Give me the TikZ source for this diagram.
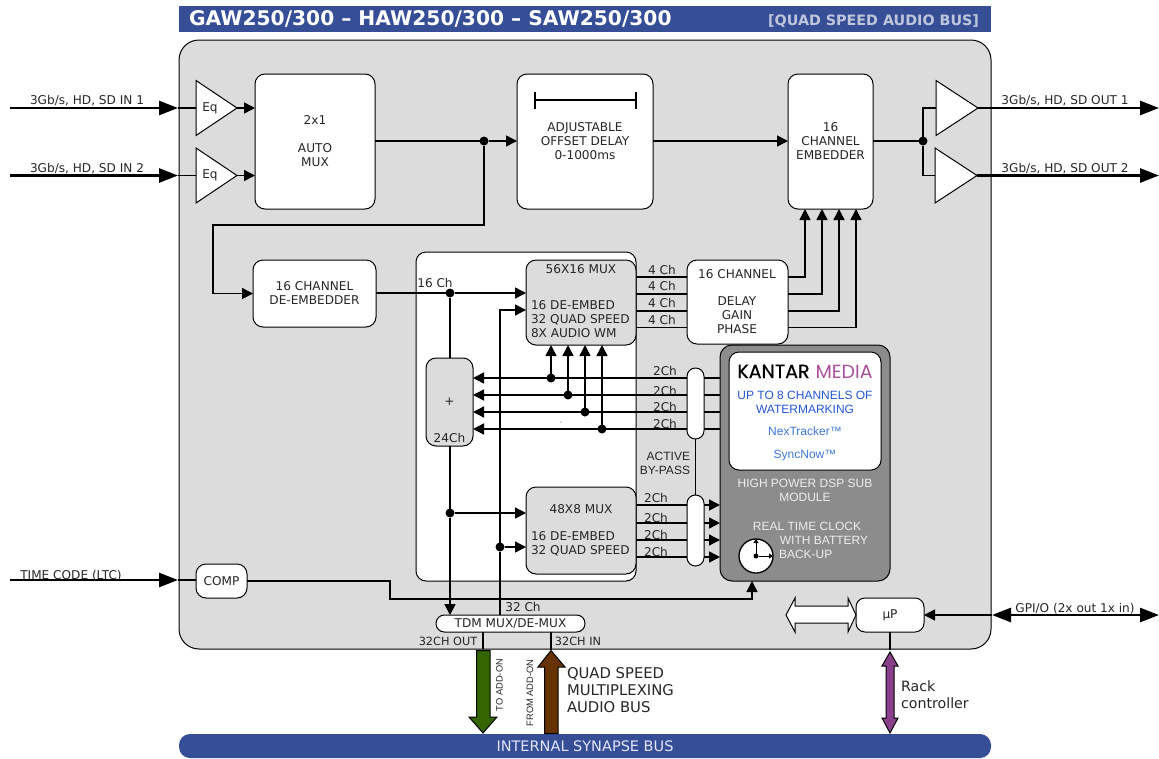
\documentclass[tikz,border=0pt]{standalone}
\usepackage{fontspec}
\setmainfont{DejaVu Sans}
\newfontfamily\logofont{Poppins}
\newfontfamily\logob[FakeBold=0.5]{Poppins}
\newfontfamily\arial{Liberation Sans}
\usetikzlibrary{arrows.meta,shapes.geometric,calc}
\definecolor{titleblue}{HTML}{354E96}
\definecolor{boardgrey}{HTML}{DCDCDC}
\definecolor{dspgrey}{HTML}{8C8C8C}
\definecolor{subtle}{HTML}{BFC6DC}
\definecolor{wmblue}{HTML}{2457D6}
\definecolor{tmblue}{HTML}{3E78D8}
\definecolor{kpurple}{HTML}{A9509B}
\definecolor{dgreen}{HTML}{336600}
\definecolor{dbrown}{HTML}{663300}
\definecolor{rackp}{HTML}{8A3F8A}
\definecolor{dsptext}{HTML}{EDEDED}
\tikzset{
  x=1pt,y=-1pt,
  every node/.style={inner sep=0pt,outer sep=0pt,text=black!85,font=\fontsize{12.1}{14}\selectfont},
  rbox/.style={draw=black,line width=1pt,fill=white,rounded corners=10pt,align=center},
  gbox/.style={rbox,fill=boardgrey},
  pill/.style={rbox,rounded corners=8.4pt},
  lbl/.style={anchor=base},
  lft/.style={anchor=base west},
  ar/.style={font=\fontsize{12}{13.8}\selectfont\arial},
  wire/.style={draw=black,line width=1.5pt},
  arr/.style={wire,-{Triangle[length=11pt,width=11pt]}},
  bigarr/.style={draw=black,line width=2.7pt,-{Triangle[length=19pt,width=14pt]}},
  dot/.style={circle,fill=black,minimum size=9pt},
  amp/.style={isosceles triangle,isosceles triangle stretches,draw=black,line width=1pt,fill=white,
    minimum height=41pt,minimum width=55pt,shape border rotate=0,anchor=lower side},
}
\begin{document}
\begin{tikzpicture}
\useasboundingbox (0,0) rectangle (1159,758);
% title
\node (title) [fill=titleblue,minimum width=812,minimum height=26] at (585,19) {};
\node (titlea) [anchor=base west,text=white,font=\fontsize{20.2}{22}\selectfont\bfseries] at (189,25.5) {GAW250/300 – HAW250/300 – SAW250/300};
\node (titleb) [anchor=base east,text=subtle,font=\fontsize{14.3}{16}\selectfont\bfseries] at (979,25) {[QUAD SPEED AUDIO BUS]};
% board
\node (board) [draw=black,line width=1pt,fill=boardgrey,rounded corners=20pt,minimum width=812,minimum height=609] at (585,344.5) {};
\node (syn) [fill=titleblue,rounded corners=11pt,minimum width=812,minimum height=24] at (585,746) {};
\node (synt) [text=white!90!blue,font=\fontsize{14.5}{16}\selectfont] at (585,746) {INTERNAL SYNAPSE BUS};
\node (wbox) [rbox,minimum width=220,minimum height=329] at (526,416.5) {};
% blocks
\node (eqa) [amp] at (196,108) {};
\node (eqb) [amp] at (196,175.5) {};
\node (eqat) at (210,108) {Eq};
\node (eqbt) at (210,175.5) {Eq};
\node (amux) [rbox,minimum width=120,minimum height=135] at (315,141.5) {};
\node (amuxt) [align=center] at (315,141) {2x1\\[14pt]AUTO\\MUX};
\node (adel) [rbox,minimum width=136,minimum height=135] at (585,141.5) {};
\node (adelt) [align=center] at (585,141) {ADJUSTABLE\\OFFSET DELAY\\0-1000ms};
\node (emb) [rbox,minimum width=85,minimum height=135] at (830.5,141.5) {16\\CHANNEL\\EMBEDDER};
\node (oa) [amp,minimum height=42] at (936,108) {};
\node (ob) [amp,minimum height=42] at (935,175.5) {};
\node (demb) [rbox,minimum width=123,minimum height=67] at (314.5,293.5) {16 CHANNEL\\DE-EMBEDDER};
\node (mxa) [gbox,minimum width=110,minimum height=85] at (581,302.5) {};
\node (mxat) [lbl] at (581,273) {56X16 MUX};
\node (mxal) [anchor=west,align=left] at (531,319.5) {16 DE-EMBED\\32 QUAD SPEED\\8X AUDIO WM};
\node (dgp) [rbox,minimum width=101,minimum height=84] at (737.5,302) {};
\node (dgpa) [lbl] at (737,278) {16 CHANNEL};
\node (dgpb) [align=center] at (737,315) {DELAY\\GAIN\\PHASE};
\node (plus) [gbox,minimum width=47,minimum height=88] at (449.5,402) {};
\node (plust) at (449.5,402) {+};
\node (plusb) [lbl] at (449.5,442) {24Ch};
\node (mxb) [gbox,minimum width=110,minimum height=87] at (581,530.5) {};
\node (mxbt) [lbl] at (581,513) {48X8 MUX};
\node (mxbl) [anchor=west,align=left] at (531,544) {16 DE-EMBED\\32 QUAD SPEED};
\node (dsp) [draw=black,line width=1pt,fill=dspgrey,rounded corners=12pt,minimum width=170,minimum height=236] at (805,463) {};
\node (kb) [rbox,minimum width=152,minimum height=118] at (805,411) {};
\node (logo) [anchor=base,font=\fontsize{19}{20}\selectfont] at (805,378) {{\color{black}\logob KANTAR} {\color{kpurple}\logofont MEDIA}};
\node (wm) [align=center,text=wmblue,ar] at (805,402) {UP TO 8 CHANNELS OF\\WATERMARKING};
\node (nt) [lbl,text=tmblue,ar] at (805,435.5) {NexTracker™};
\node (sn) [lbl,text=tmblue,ar] at (805,458.5) {SyncNow™};
\node (hp) [align=center,text=dsptext,ar] at (805,490) {HIGH POWER DSP SUB\\MODULE};
\node (rt) [lbl,text=dsptext,ar] at (807,530.5) {REAL TIME CLOCK};
\node (wb) [lbl,text=dsptext,ar] at (824,544) {WITH BATTERY};
\node (bu) [lft,text=dsptext,ar] at (779,558) {BACK-UP};
\node (clk) [circle,draw=black,line width=1.3pt,fill=white,minimum size=34pt] at (756,556) {};
\node (clkc) [circle,fill=black,minimum size=5pt] at (756,556) {};
\coordinate (clku) at (756,539);
\coordinate (clkr) at (773,556);
\draw[wire,line width=1pt,-{Triangle[length=4pt,width=5pt]}] (clkc) -- (clku);
\draw[wire,line width=1pt,-{Triangle[length=4pt,width=5pt]}] (clkc) -- (clkr);
\node (comp) [rbox,minimum width=51,minimum height=34] at (221.5,581) {COMP};
\node (tdm) [pill,minimum width=149,minimum height=17] at (510.5,623.5) {TDM MUX/DE-MUX};
\node (up) [rbox,rounded corners=9pt,minimum width=68,minimum height=34] at (890,615) {µP};
% delay symbol
\coordinate (da) at (535,100);\coordinate (db) at (636,100);
\draw[wire] (da) -- (db);
\draw[wire] ($(da)+(0,-8.5)$) -- ($(da)+(0,8.5)$);
\draw[wire] ($(db)+(0,-8.5)$) -- ($(db)+(0,8.5)$);
% free ends
\coordinate (ina) at (10,108);\coordinate (inb) at (10,175.5);
\coordinate (bda) at (178,108);\coordinate (bdb) at (178,175.5);
\coordinate (oua) at (1159,108);\coordinate (oub) at (1159,175.5);
\coordinate (tca) at (10,580);\coordinate (tcb) at (178,580);
\coordinate (gpl) at (992,615);\coordinate (gpr) at (1159,615);
% inputs
\draw[bigarr] (ina) -- (bda);
\draw[bigarr] (inb) -- (bdb);
\draw[bigarr] (tca) -- (tcb);
\draw[wire] (bda) -- (eqa.lower side |- bda);
\draw[wire] (bdb) -- (eqb.lower side |- bdb);
\draw[wire] (tcb) -- (comp.west |- tcb);
\draw[arr] (eqa.apex) -- (amux.west |- eqa.apex);
\draw[arr] (eqb.apex) -- (amux.west |- eqb.apex);
\draw[bigarr] (oa.apex) -- (oua);
\draw[bigarr] (ob.apex) -- (oub);
% main path
\node (j1) [dot] at (484,141) {};
\node (j2) [dot] at (923,141) {};
\draw[wire] (amux.east |- j1) -- (j1);
\draw[arr] (j1) -- (adel.west |- j1);
\draw[arr] (adel.east |- j1) -- (emb.west |- j1);
\draw[wire] (emb.east |- j2) -- (j2);
\draw[wire] (oa.lower side) -| (j2);
\draw[wire] (ob.lower side) -| (j2);
\draw[arr] (j1) |- (213,225) |- (demb.west);
% 16 ch
\node (j3) [dot] at (450,293) {};
\draw[wire] (demb.east |- j3) -- (j3);
\draw[arr] (j3) -- (mxa.west |- j3);
\draw[wire] (j3) -- (j3 |- plus.north);
\node (j4) [dot] at (450,513) {};
\draw[wire] (j3 |- plus.south) -- (j4);
\draw[arr] (j4) -- (mxb.west |- j4);
\draw[arr] (j4) -- (j4 |- tdm.north);
\node (j5) [dot] at (500,547) {};
\draw[arr] (j5) -- (mxb.west |- j5);
\draw[wire] (tdm.north -| j5) -- (j5);
\draw[arr] (j5) |- (mxa.west |- 0,310);
% 4ch
\foreach \yy/\xx in {277/805,294/822,311/839,327.5/856}{
  \draw[wire] (mxa.east |- 0,\yy) -- (dgp.west |- 0,\yy);
  \draw[arr] (dgp.east |- 0,\yy) -| (emb.south -| \xx,0);
}
% 2ch
\foreach \yy/\xx [count=\i] in {378/551,395/568,412/585,429/602}{
  \draw[arr] (dsp.west |- 0,\yy) -- (plus.east |- 0,\yy);
  \node (d\i) [dot] at (\xx,\yy) {};
  \draw[arr] (d\i) -- (mxa.south -| d\i);
}
\foreach \yy in {505,523,540,557}{
  \draw[arr] (mxb.east |- 0,\yy) -- (dsp.west |- 0,\yy);
}
\node (pa) [pill,minimum width=17,minimum height=71] at (695.5,403.5) {};
\node (pb) [pill,minimum width=17,minimum height=71] at (695.5,530.5) {};
\draw[wire] (pa.south) -- (pb.north);
% time code
\draw[arr] (comp.east) -- (390,581) |- (752,599) -- (dsp.south -| 752,0);
% tdm
\coordinate (ta) at (483,649);\coordinate (tb) at (551,650);
\draw[wire] (tdm.south -| ta) -- (ta);
\draw[wire] (tdm.south -| tb) -- (tb);
\coordinate (rk) at (890,650);
\draw[wire] (up.south -| rk) -- (rk);
% gpio
\draw[bigarr] (1020,615) -- (gpr);
\draw[bigarr] (1030,615) -- (gpl);
\draw[arr] (gpl) -- (up.east);
% big arrows
\draw[line width=1pt,fill=dgreen] (476.5,650.5) -- (490,650.5) -- (490,717) -- (497,717) -- (483,733) -- (469,717) -- (476.5,717) -- cycle;
\draw[line width=1pt,fill=dbrown] (544.5,733.5) -- (558,733.5) -- (558,667) -- (565,667) -- (551,650.5) -- (538,667) -- (544.5,667) -- cycle;
\draw[line width=1pt,fill=rackp] (890,652) -- (898,666) -- (894,666) -- (894,718) -- (898,718) -- (890,733) -- (882,718) -- (886,718) -- (886,666) -- (882,666) -- cycle;
\draw[line width=1pt,fill=white] (786,615) -- (795,598) -- (795,606) -- (848,606) -- (848,598) -- (856,615) -- (848,632) -- (848,623) -- (795,623) -- (795,632) -- cycle;
% labels
\node (l1) [lbl] at (87,104.5) {3Gb/s, HD, SD IN 1};
\node (l2) [lbl] at (87,172.5) {3Gb/s, HD, SD IN 2};
\node (l3) [lbl] at (1065,104.5) {3Gb/s, HD, SD OUT 1};
\node (l4) [lbl] at (1065,172.5) {3Gb/s, HD, SD OUT 2};
\node (l5) [lbl] at (71,579) {TIME CODE (LTC)};
\node (l6) [lbl] at (1075,612) {GPI/O (2x out 1x in)};
\node (l7) [lbl] at (435,287) {16 Ch};
\foreach \yy [count=\i] in {274,290.5,307,324}{\node (fc\i) [lbl] at (662,\yy) {4 Ch};}
\foreach \yy [count=\i] in {375,395,411,428}{\node (tc\i) [lbl] at (665,\yy) {2Ch};}
\foreach \yy [count=\i] in {502,522,539,556}{\node (tl\i) [lbl] at (656,\yy) {2Ch};}
\node (abp) [anchor=north east,align=right,ar] at (690,452) {ACTIVE\\BY-PASS};
\node (l32) [lbl] at (523,611) {32 Ch};
\node (lo) [lbl,font=\fontsize{11.3}{12}\selectfont] at (448,645) {32CH OUT};
\node (li) [lbl,font=\fontsize{11.3}{12}\selectfont] at (578,645) {32CH IN};
\node (lta) [rotate=90,font=\fontsize{9.3}{10}\selectfont\arial] at (499.5,685) {TO ADD-ON};
\node (lfa) [rotate=90,font=\fontsize{9.3}{10}\selectfont\arial] at (530,693) {FROM ADD-ON};
\node (lq) [anchor=north west,align=left,font=\fontsize{14.8}{17}\selectfont] at (567,668) {QUAD SPEED\\MULTIPLEXING\\AUDIO BUS};
\node (lr) [anchor=north west,align=left,font=\fontsize{14.2}{17}\selectfont] at (901,681) {Rack\\controller};
\node (spk) [circle,fill=black,minimum size=1pt] at (561,422) {};
\end{tikzpicture}
\end{document}
